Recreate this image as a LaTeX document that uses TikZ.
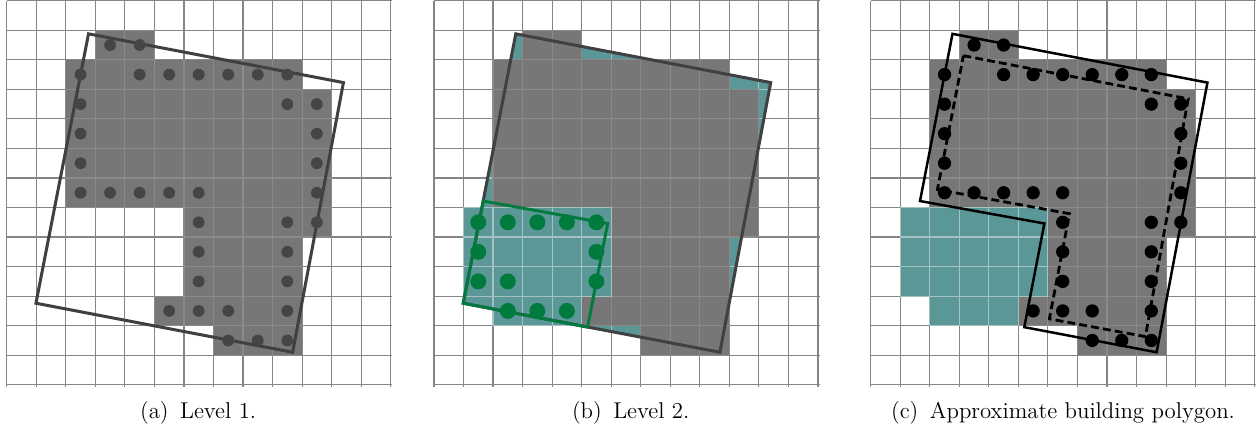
\documentclass[tikz,border=0pt]{standalone}
\usepackage{xcolor}
\usepackage{tikz}
\usetikzlibrary{positioning}
\definecolor{gridgray}{HTML}{858585}
\definecolor{cellgray}{HTML}{777777}
\definecolor{celledge}{HTML}{8A8A8A}
\definecolor{polydark}{HTML}{404040}
\definecolor{dotdark}{HTML}{454545}
\definecolor{tealcell}{HTML}{5B9797}
\definecolor{tealedge}{HTML}{A4C2C2}
\definecolor{levgreen}{HTML}{007A3D}
% cell lists: row (from top) / first column / last column
\def\bldgcells{1/3/4, 2/2/9, 3/2/10, 4/2/10, 5/2/10, 6/2/10, 7/6/10, 8/6/9, 9/6/9, 10/5/9, 11/7/9}
\def\newcells{7/1/5, 8/1/5, 9/1/5, 10/2/4}
% boundary cells: row / column
\def\edgecells{1/3, 1/4, 2/2, 2/4, 2/5, 2/6, 2/7, 2/8, 2/9, 3/2, 3/9, 3/10,
  4/2, 4/10, 5/2, 5/10, 6/2, 6/3, 6/4, 6/5, 6/6, 6/10, 7/6, 7/9, 7/10,
  8/6, 8/9, 9/6, 9/9, 10/5, 10/6, 10/7, 10/9, 11/7, 11/8, 11/9}
\def\newedge{7/1, 7/2, 7/3, 7/4, 7/5, 8/1, 8/5, 9/1, 9/2, 9/5, 10/2, 10/3, 10/4}
\newcommand{\rastergrid}{\draw[gridline, step=1] (0,-0.06) grid (13.06,13);}
\newcommand{\bldgfill}{%
  \foreach \r/\a/\b in \bldgcells
    \foreach \c in {\a,...,\b}
      \draw[bldcell] (\c,12-\r) rectangle ++(1,1);}
\newcommand{\newfill}{%
  \foreach \r/\a/\b in \newcells
    \foreach \c in {\a,...,\b}
      \draw[newcell] (\c,12-\r) rectangle ++(1,1);}

\begin{document}
\begin{tikzpicture}[
  x=0.5cm, y=0.5cm,
  gridline/.style = {draw=gridgray, line width=0.55pt},
  bldcell/.style  = {fill=cellgray, draw=celledge, line width=0.55pt},
  newcell/.style  = {fill=tealcell, draw=tealedge, line width=0.55pt},
  outline/.style  = {draw=polydark, line width=1.45pt, line join=miter},
  subpoly/.style  = {draw=levgreen, line width=1.4pt, line join=miter},
  approx/.style   = {draw=black, line width=1.2pt, line join=miter},
  approxd/.style  = {draw=black, line width=1.35pt, dash pattern=on 3.8pt off 2pt},
  subcap/.style   = {font=\fontsize{11}{13}\selectfont, anchor=base, inner sep=0pt}
]

\path[use as bounding box, fill=white] (-0.227,-1.598) rectangle (42.43,13.026);

% ============================ (a) Level 1 =================================
\begin{scope}
  \coordinate (a1) at (2.77,11.88);
  \coordinate (a2) at (11.40,10.23);
  \coordinate (a3) at (9.68,1.10);
  \coordinate (a4) at (0.99,2.76);

  \rastergrid
  \bldgfill
  \draw[outline] (a1) -- (a2) -- (a3) -- (a4) -- cycle;
  \foreach \r/\c in \edgecells
    \fill[dotdark] (\c+0.5,12.5-\r) circle (0.2);

  \node[subcap] (capA) at (6.48,-1.13) {(a)\enspace Level 1.};
\end{scope}

% ============================ (b) Level 2 =================================
\begin{scope}[shift={(14.465,0)}]
  \coordinate (b1) at (2.77,11.88);
  \coordinate (b2) at (11.40,10.23);
  \coordinate (b3) at (9.68,1.10);
  \coordinate (b4) at (0.99,2.76);
  \coordinate (g1) at (1.67,6.22);
  \coordinate (g2) at (5.88,5.46);
  \coordinate (g3) at (5.20,1.95);

  \rastergrid
  % uncovered parts of the level-1 polygon
  \begin{scope}
    \clip (b1) -- (b2) -- (b3) -- (b4) -- cycle;
    \fill[tealcell] (0,0) rectangle (13,13);
    \draw[tealedge, line width=0.55pt, step=1] (0,0) grid (13,13);
  \end{scope}
  \bldgfill
  \newfill
  \draw[outline] (b1) -- (b2) -- (b3) -- (b4) -- cycle;
  \draw[subpoly] (g1) -- (g2) -- (g3) -- (b4) -- cycle;
  \foreach \r/\c in \newedge
    \fill[levgreen] (\c+0.5,12.5-\r) circle (0.27);

  \node[subcap] (capB) at (6.66,-1.13) {(b)\enspace Level 2.};
\end{scope}

% ===================== (c) Approximate building polygon ===================
\begin{scope}[shift={(29.25,0)}]
  \coordinate (c1) at (2.77,11.88);
  \coordinate (c2) at (11.40,10.23);
  \coordinate (c3) at (9.68,1.10);
  \coordinate (c4) at (5.20,1.95);
  \coordinate (c5) at (5.88,5.46);
  \coordinate (c6) at (1.67,6.22);
  \coordinate (d1) at (3.14,11.14);
  \coordinate (d2) at (10.75,9.68);
  \coordinate (d3) at (9.30,1.63);
  \coordinate (d4) at (6.05,2.23);
  \coordinate (d5) at (6.73,5.79);
  \coordinate (d6) at (2.26,6.61);

  \rastergrid
  \bldgfill
  \newfill
  \draw[approx] (c1) -- (c2) -- (c3) -- (c4) -- (c5) -- (c6) -- cycle;
  \draw[approxd] (d1) -- (d2) -- (d3) -- (d4) -- (d5) -- (d6) -- cycle;
  \foreach \r/\c in \edgecells
    \fill[black] (\c+0.5,12.5-\r) circle (0.225);

  \node[subcap] (capC) at (6.51,-1.13) {(c)\enspace Approximate building polygon.};
\end{scope}

\end{tikzpicture}
\end{document}
